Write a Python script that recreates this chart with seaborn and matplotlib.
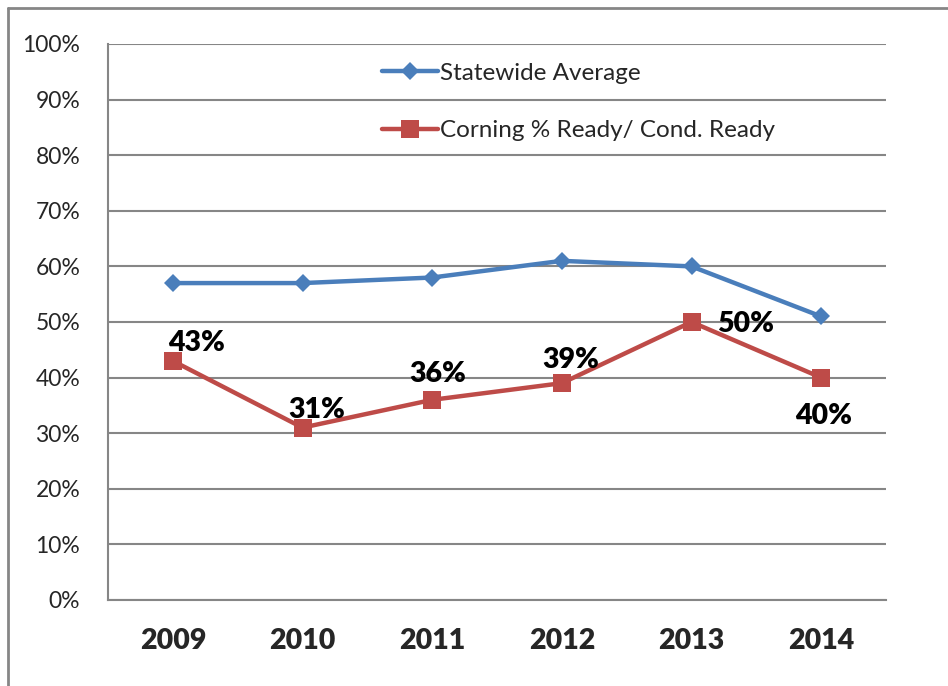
import matplotlib
matplotlib.use("Agg")
import matplotlib.pyplot as plt
import seaborn as sns
import pandas as pd
from matplotlib.lines import Line2D
from matplotlib.ticker import MultipleLocator, FixedLocator, FuncFormatter

years = ["2009", "2010", "2011", "2012", "2013", "2014"]
statewide = [57, 57, 58, 61, 60, 51]
corning = [43, 31, 36, 39, 50, 40]
series_names = ["Statewide Average", "Corning % Ready/ Cond. Ready"]
label_offsets = [(24, 18), (14, 18), (6, 26), (9, 23), (54, -2), (2, -38)]

sns.set_theme(style="white")
plt.rcParams['font.family'] = ['Lato', 'DejaVu Sans']

df = pd.DataFrame({
    "x": list(range(len(years))) * 2,
    "value": statewide + corning,
    "series": [series_names[0]] * len(years) + [series_names[1]] * len(years),
})

fig = plt.figure(figsize=(9.48, 6.86), dpi=100)
ax = fig.add_axes([108/948, 1-600/686, (886-108)/948, (600-44)/686])

blue = "#4A7EBB"
red = "#BE4B48"
sns.lineplot(data=df, x="x", y="value", hue="series", style="series",
             markers={series_names[0]: "D", series_names[1]: "s"},
             dashes=False, palette={series_names[0]: blue, series_names[1]: red},
             linewidth=3.2, markersize=11, markeredgewidth=0, ax=ax, legend=False)
for ln in ax.lines:
    if ln.get_marker() == "D":
        ln.set_markersize(9.5)
    else:
        ln.set_markersize(12.5)

ax.set_xlim(-0.5, len(years) - 0.5)
ax.set_ylim(0, 100)
ax.yaxis.set_major_locator(MultipleLocator(10))
ax.yaxis.set_major_formatter(FuncFormatter(lambda v, p: f"{int(v)}%"))
ax.set_xticks(range(len(years)))
ax.set_xticklabels(years, fontsize=20.5, fontweight="heavy")
ax.xaxis.set_minor_locator(FixedLocator([i - 0.5 for i in range(len(years) + 1)]))
ax.tick_params(axis="x", which="major", length=0, pad=20)
ax.tick_params(axis="x", which="minor", length=8, width=1.5, color="#868686", direction="out")
ax.tick_params(axis="y", which="major", length=8, width=1.5, color="#868686", direction="out",
               labelsize=16.5, pad=12)
ax.set_xlabel("")
ax.set_ylabel("")
ax.grid(axis="y", color="#868686", linewidth=1.5)
ax.set_axisbelow(True)
for s in ["top", "right"]:
    ax.spines[s].set_visible(False)
for s in ["left", "bottom"]:
    ax.spines[s].set_color("#868686")
    ax.spines[s].set_linewidth(1.5)

for i, (v, off) in enumerate(zip(corning, label_offsets)):
    ax.annotate(f"{v}%", (i, v), xytext=off, textcoords="offset pixels",
                ha="center", va="center", fontsize=20.5, fontweight="heavy", color="black")

handles = [
    Line2D([], [], color=blue, marker="D", markersize=9.5, linewidth=3.2, markeredgewidth=0),
    Line2D([], [], color=red, marker="s", markersize=12.5, linewidth=3.2, markeredgewidth=0),
]
ax.legend(handles, series_names, loc="upper left", bbox_to_anchor=(0.352, 0.966),
          frameon=False, fontsize=17.5, labelspacing=1.5, handlelength=2.3,
          handletextpad=0.1, borderaxespad=0, borderpad=0)

fig.add_artist(plt.Line2D([8/948, 8/948], [0, 1-8/686], transform=fig.transFigure,
                          color="#868686", linewidth=2))
fig.add_artist(plt.Line2D([8/948, 1], [1-8/686, 1-8/686], transform=fig.transFigure,
                          color="#868686", linewidth=2))

fig.savefig("out.png", dpi=100)
